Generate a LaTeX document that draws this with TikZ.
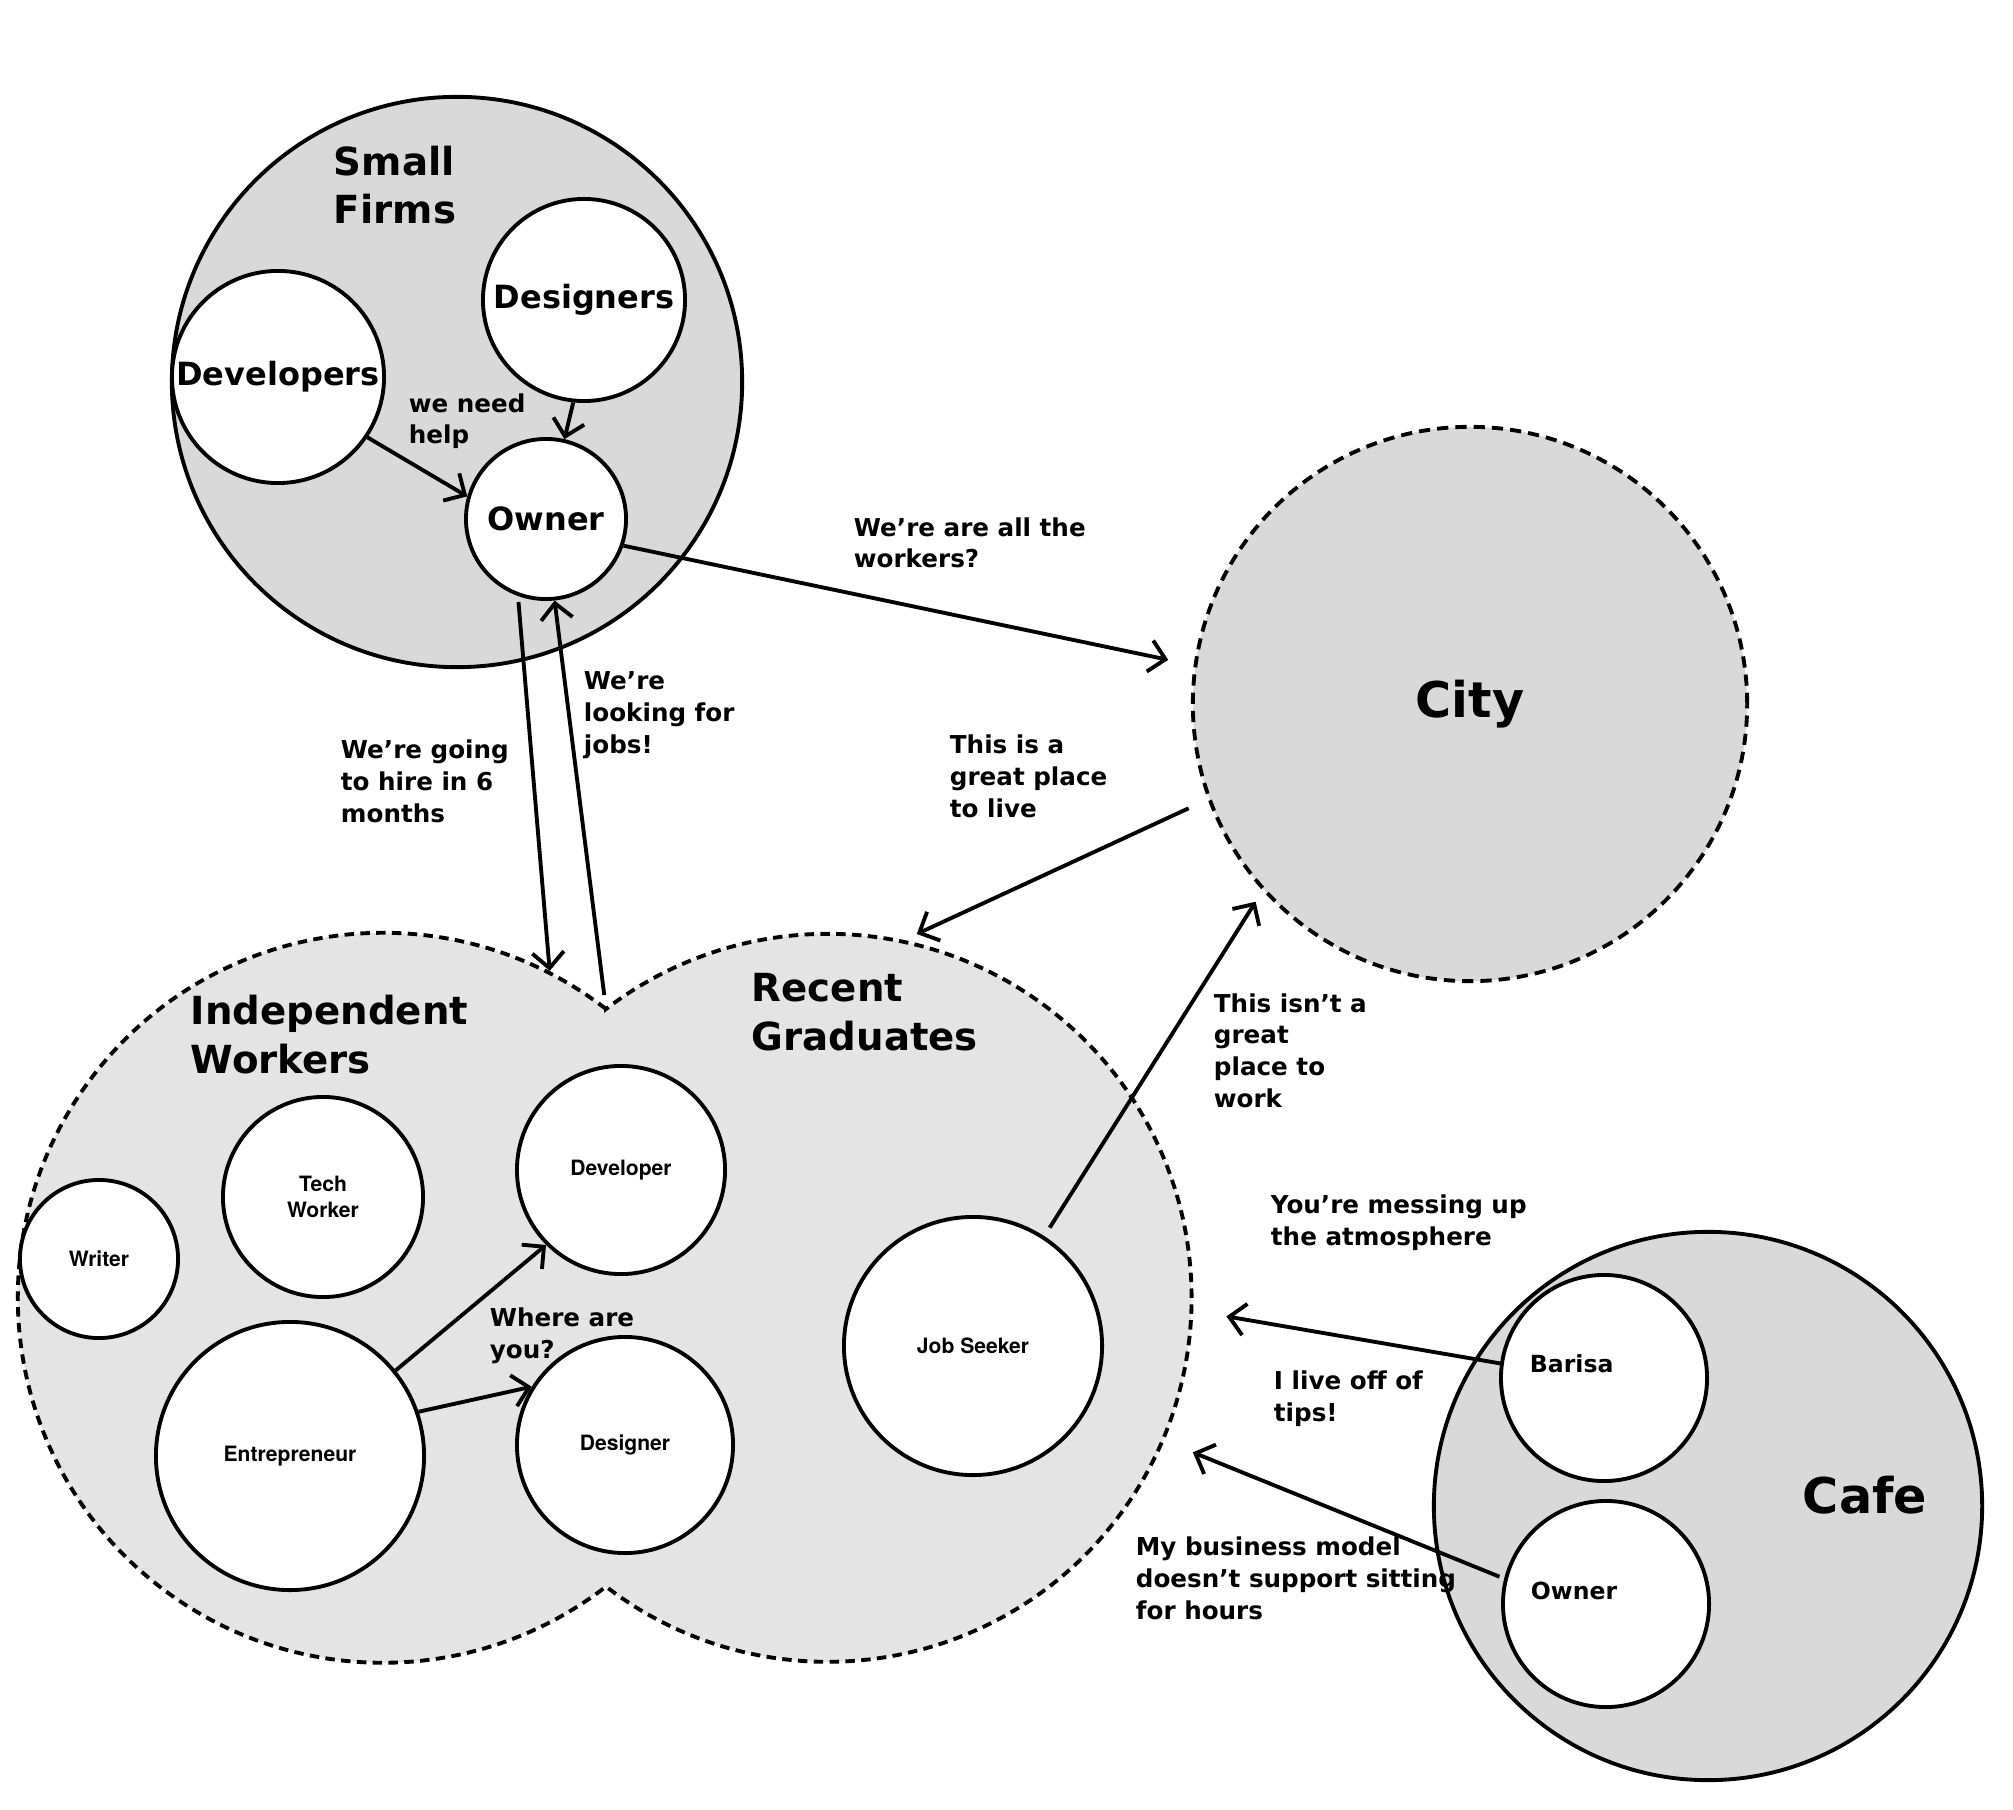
\documentclass[tikz,border=0pt]{standalone}
\usepackage{fontspec}
\setmainfont{DejaVu Sans}
\newfontfamily\herosfont{TeX Gyre Heros}
\usetikzlibrary{arrows.meta}
\usetikzlibrary{calc}

\definecolor{circgray}{gray}{0.85}
\definecolor{blobgray}{gray}{0.895}

\tikzset{
        bigcirc/.style={circle, draw, fill=circgray, inner sep=0pt},
        whitecirc/.style={circle, draw, fill=white, inner sep=0pt, align=center},
        lobe/.style={circle, inner sep=0pt},
        dashline/.style={dash pattern=on 2.7pt off 1.8pt},
        citydash/.style={dash pattern=on 3.2pt off 2pt},
        arr/.style={->},
        headtxt/.style={font=\fontsize{11}{13.8}\selectfont\bfseries, align=left, anchor=base west, inner sep=0pt},
        saytxt/.style={font=\fontsize{7}{9}\selectfont\bfseries, align=left, anchor=base west, inner sep=0pt},
        roletxt/.style={font=\fontsize{9.1}{11}\selectfont\bfseries},
        smalltxt/.style={font=\herosfont\fontsize{6}{7.2}\selectfont\bfseries},
        cafetxt/.style={font=\fontsize{6.7}{8}\selectfont\bfseries, anchor=base west, inner sep=0pt},
        bigtxt/.style={font=\fontsize{14}{16}\selectfont\bfseries}
}

\begin{document}
\begin{tikzpicture}[x=0.01cm, y=-0.01cm, line width=1.1pt, >={Straight Barb[length=4.5pt,width=9pt]}]
        \useasboundingbox (0,0) rectangle (2013,1810);

        % small firms
        \node[bigcirc, minimum size=5.7cm] (firms) at (457,382) {};
        \node[whitecirc, roletxt, minimum size=2.12cm] (devs) at (278,377) {Developers};
        \node[whitecirc, roletxt, minimum size=2.02cm] (dsg) at (584,300) {Designers};
        \node[whitecirc, roletxt, minimum size=1.6cm] (own) at (546,519) {Owner};
        \node[headtxt] (firmsT) at (332,224) {Small\\Firms};

        % city
        \node[bigcirc, citydash, bigtxt, minimum size=5.54cm] (city) at (1470,704) {City};

        % independent workers and recent graduates
        \node[lobe, minimum size=7.3cm] (ind) at (383,1298) {};
        \node[lobe, minimum size=7.28cm] (grad) at (828,1298) {};
        \coordinate (cuspT) at (606,1009);
        \filldraw[dashline, fill=blobgray] (cuspT) arc[start angle=-52.3, end angle=-307.7, radius=365]
                arc[start angle=127.5, end angle=-127.5, radius=364] -- cycle;
        \node[headtxt] (indT) at (189,1073) {Independent\\Workers};
        \node[headtxt] (gradT) at (750,1050) {Recent\\Graduates};
        \node[whitecirc, smalltxt, minimum size=1.58cm] (writer) at (99,1259) {Writer};
        \node[whitecirc, smalltxt, minimum size=2cm] (tech) at (323,1197) {Tech\\Worker};
        \node[whitecirc, smalltxt, minimum size=2.68cm] (ent) at (290,1456) {Entrepreneur};
        \node[whitecirc, smalltxt, minimum size=2.08cm] (dev) at (621,1170) {Developer};
        \node[whitecirc, smalltxt, minimum size=2.16cm] (des) at (625,1445) {Designer};
        \node[whitecirc, smalltxt, minimum size=2.58cm] (seek) at (973,1346) {Job Seeker};

        % cafe
        \node[bigcirc, minimum size=5.48cm] (cafe) at (1708,1506) {};
        \node[whitecirc, minimum size=2.06cm] (bar) at (1604,1378) {};
        \node[whitecirc, minimum size=2.06cm] (cown) at (1606,1604) {};
        \node[cafetxt] (barT) at (1528,1372) {Barisa};
        \node[cafetxt] (cownT) at (1529,1599) {Owner};
        \node[bigtxt, anchor=base] (cafeT) at (1865,1513) {Cafe};

        \draw[arr] (devs.-34) -- (own.164);
        \draw[arr] (dsg.-96) -- (own.77);
        \draw[arr, shorten >=0.26cm] (own.-19) -- (city.172);
        \draw[arr, shorten <=0.06cm] (own.-110) -- (ind.63.6);
        \draw[arr, shorten <=0.14cm] (cuspT) -- (own.-84);
        \draw[arr] (ent.39) -- (dev.225);
        \draw[arr] (ent.19.5) -- (des.148);
        \draw[arr, shorten <=0.21cm, shorten >=0.14cm] (city.200) -- (grad.78);
        \draw[arr, shorten <=0.1cm, shorten >=0.13cm] (seek.57) -- (city.222.5);
        \draw[arr, shorten >=0.33cm] (bar.172) -- (grad.-2.5);
        \draw[arr, shorten <=0.05cm, shorten >=0.3cm] (cown.166) -- (grad.-23.5);

        \node[saytxt] (helpT) at (407,444) {we need\\help};
        \node[saytxt] (workersT) at (852,568) {We’re are all the\\workers?};
        \node[saytxt] (jobsT) at (582,753) {We’re\\looking for\\jobs!};
        \node[saytxt] (hireT) at (339,822) {We’re going\\to hire in 6\\months};
        \node[saytxt] (liveT) at (948,817) {This is a\\great place\\to live};
        \node[saytxt] (workT) at (1212,1107) {This isn’t a\\great\\place to\\work};
        \node[saytxt] (whereT) at (488,1358) {Where are\\you?};
        \node[saytxt] (messT) at (1269,1245) {You’re messing up\\the atmosphere};
        \node[saytxt] (tipsT) at (1272,1421) {I live off of\\tips!};
        \node[saytxt] (modelT) at (1134,1619) {My business model\\doesn’t support sitting\\for hours};
\end{tikzpicture}
\end{document}
